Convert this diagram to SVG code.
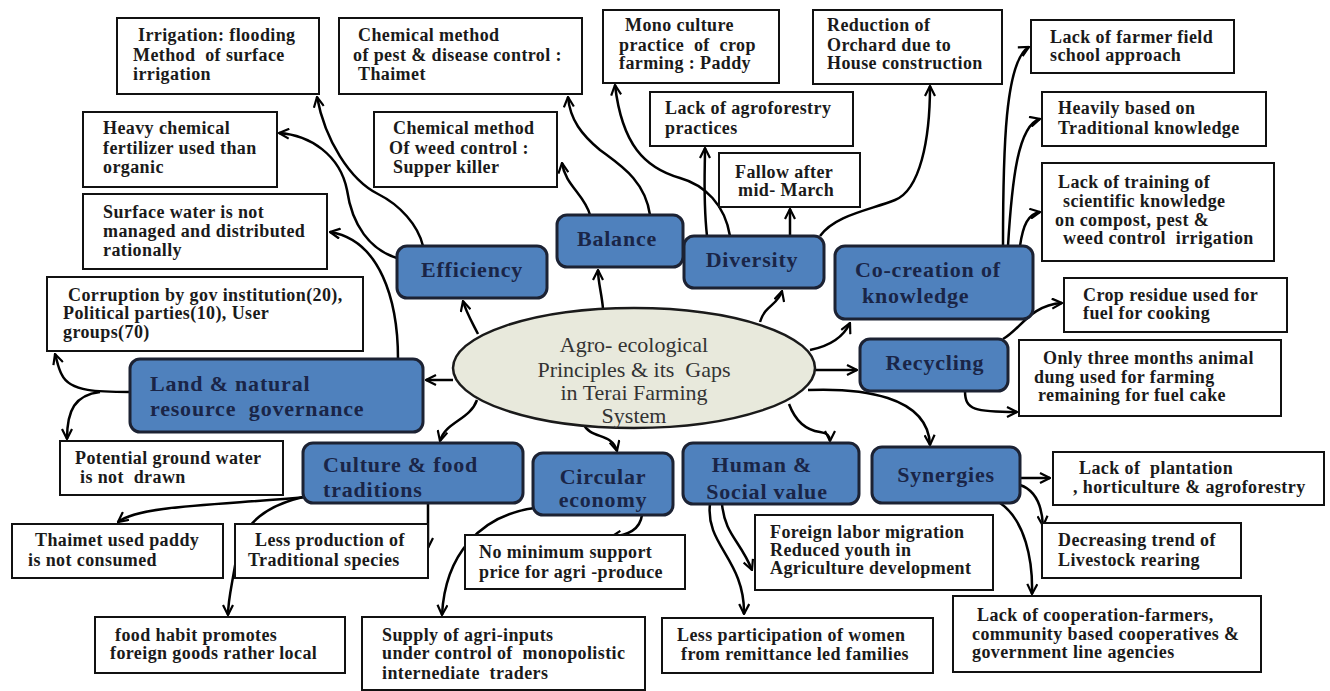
<svg xmlns="http://www.w3.org/2000/svg" width="1330" height="691" viewBox="0 0 1330 691">
<style>
.b{fill:#fff;stroke:#111;stroke-width:2}
.n{fill:#4f81bd;stroke:#1c2233;stroke-width:3}
.t{font-family:"Liberation Serif","Times New Roman",serif;font-weight:bold;font-size:18px;fill:#1a1a1a;white-space:pre;letter-spacing:0.4px}
.nt{font-family:"Liberation Serif","Times New Roman",serif;font-weight:bold;font-size:22px;fill:#1a2547;white-space:pre;letter-spacing:0.8px}
.et{font-family:"Liberation Serif","Times New Roman",serif;font-size:22px;fill:#333;white-space:pre}
.c path{fill:none;stroke:#000;stroke-width:2.5;marker-end:url(#ah)}
</style>
<defs>
<marker id="ah" viewBox="0 0 12 12" refX="11" refY="6" markerWidth="12" markerHeight="12" markerUnits="userSpaceOnUse" orient="auto">
<path d="M1,1 L11,6 L1,11" fill="none" stroke="#000" stroke-width="2.2"/>
</marker>
</defs>
<rect width="1330" height="691" fill="#fff"/>

<g class="c" id="connectors">
<path d="M478,334 C472,322 466,312 463,301"/>
<path d="M603,309 C602,295 598,282 598,270"/>
<path d="M760,322 C765,305 778,305 782,291"/>
<path d="M810,350 C830,346 843,338 850,323"/>
<path d="M815,370 L857,370"/>
<path d="M808,390 C860,388 928,395 930,445"/>
<path d="M789,404 C795,420 805,430 820,432 C828,433 830,436 830,441"/>
<path d="M583,423 C590,440 612,432 617,451"/>
<path d="M477,400 C470,420 445,422 440,441"/>
<path d="M453,380 L426,380"/>
<path d="M423,246 C418,225 400,205 378,194 C350,180 325,140 317,97"/>
<path d="M397,258 C370,250 352,225 347,190 C340,155 310,135 279,133"/>
<path d="M398,359 C398,300 380,240 330,232"/>
<path d="M130,392 C100,392 70,392 62,375 C58,368 57,360 55,354"/>
<path d="M100,392 C75,395 67,410 67,439"/>
<path d="M650,215 C645,180 620,165 600,150 C582,135 570,120 568,97"/>
<path d="M590,215 C585,195 565,185 562,163"/>
<path d="M730,236 C725,205 705,185 680,178 C645,168 622,145 615,85"/>
<path d="M707,236 C703,200 705,170 705,148"/>
<path d="M790,236 L790,209"/>
<path d="M820,236 C835,215 870,210 895,200 C920,190 930,140 930,86"/>
<path d="M1003,246 C1003,150 1005,60 1029,47"/>
<path d="M1008,246 C1012,180 1018,125 1040,119"/>
<path d="M1020,246 C1023,225 1028,214 1040,212"/>
<path d="M1003,339 C1020,330 1030,305 1062,303"/>
<path d="M965,391 C965,410 975,412 1017,412"/>
<path d="M306,497 C220,505 140,505 118,522"/>
<path d="M303,497 C270,505 242,520 236,560 C231,590 228,600 228,615"/>
<path d="M428,503 L428,548"/>
<path d="M535,508 C480,515 445,555 442,615"/>
<path d="M642,515 C640,530 628,535 611,537"/>
<path d="M722,504 C725,535 740,540 752,570"/>
<path d="M710,504 C705,545 745,560 744,614"/>
<path d="M1020,478 L1050,478"/>
<path d="M1020,485 C1035,490 1042,505 1043,526"/>
<path d="M1000,503 C1025,520 1033,560 1032,594"/>
</g>

<g id="center">
<ellipse cx="634" cy="368" rx="181" ry="60" fill="#e8e9dc" stroke="#1a1a1a" stroke-width="2.5"/>
<text class="et" x="634" text-anchor="middle"><tspan x="634" y="352">Agro- ecological</tspan><tspan x="634" y="377">Principles &amp; its  Gaps</tspan><tspan x="634" y="400">in Terai Farming</tspan><tspan x="634" y="423">System</tspan></text>
</g>

<g id="efficiency"><rect class="n" x="397" y="246" width="150" height="52" rx="10"/><text class="nt" x="472" y="277" text-anchor="middle">Efficiency</text></g>
<g id="balance"><rect class="n" x="557" y="215" width="126" height="52" rx="10"/><text class="nt" x="617" y="246" text-anchor="middle">Balance</text></g>
<g id="diversity"><rect class="n" x="684" y="236" width="140" height="52" rx="10"/><text class="nt" x="752" y="267" text-anchor="middle">Diversity</text></g>
<g id="cocreation"><rect class="n" x="835" y="246" width="198" height="73" rx="10"/><text class="nt"><tspan x="855" y="277">Co-creation of</tspan><tspan x="862" y="303">knowledge</tspan></text></g>
<g id="recycling"><rect class="n" x="860" y="339" width="148" height="52" rx="10"/><text class="nt" x="935" y="370" text-anchor="middle">Recycling</text></g>
<g id="land"><rect class="n" x="130" y="359" width="293" height="73" rx="10"/><text class="nt"><tspan x="150" y="391">Land &amp; natural</tspan><tspan x="150" y="416">resource  governance</tspan></text></g>
<g id="culture"><rect class="n" x="303" y="443" width="220" height="60" rx="10"/><text class="nt"><tspan x="323" y="472">Culture &amp; food</tspan><tspan x="323" y="497">traditions</tspan></text></g>
<g id="circular"><rect class="n" x="533" y="453" width="140" height="62" rx="10"/><text class="nt" text-anchor="middle"><tspan x="603" y="484">Circular</tspan><tspan x="603" y="507">economy</tspan></text></g>
<g id="human"><rect class="n" x="683" y="443" width="176" height="61" rx="10"/><text class="nt" text-anchor="middle"><tspan x="762" y="472">Human &amp;</tspan><tspan x="767" y="499">Social value</tspan></text></g>
<g id="synergies"><rect class="n" x="872" y="447" width="148" height="56" rx="10"/><text class="nt" x="946" y="482" text-anchor="middle">Synergies</text></g>

<g id="box-irrigation"><rect class="b" x="117" y="18" width="202" height="76"/><text class="t"><tspan x="138" y="41">Irrigation: flooding</tspan><tspan x="133" y="61">Method  of surface</tspan><tspan x="133" y="80">irrigation</tspan></text></g>
<g id="box-pest"><rect class="b" x="339" y="18" width="243" height="76"/><text class="t"><tspan x="358" y="41">Chemical method</tspan><tspan x="353" y="61">of pest &amp; disease control :</tspan><tspan x="358" y="80">Thaimet</tspan></text></g>
<g id="box-fertilizer"><rect class="b" x="83" y="112" width="194" height="75"/><text class="t"><tspan x="103" y="134">Heavy chemical</tspan><tspan x="103" y="154">fertilizer used than</tspan><tspan x="103" y="173">organic</tspan></text></g>
<g id="box-weed"><rect class="b" x="374" y="112" width="183" height="75"/><text class="t"><tspan x="393" y="134">Chemical method</tspan><tspan x="389" y="154">Of weed control :</tspan><tspan x="393" y="173">Supper killer</tspan></text></g>
<g id="box-surface"><rect class="b" x="83" y="194" width="244" height="75"/><text class="t"><tspan x="103" y="218">Surface water is not</tspan><tspan x="103" y="237">managed and distributed</tspan><tspan x="103" y="256">rationally</tspan></text></g>
<g id="box-corruption"><rect class="b" x="47" y="277" width="316" height="74"/><text class="t"><tspan x="68" y="301">Corruption by gov institution(20),</tspan><tspan x="63" y="319">Political parties(10), User</tspan><tspan x="63" y="338">groups(70)</tspan></text></g>
<g id="box-mono"><rect class="b" x="603" y="10" width="176" height="73"/><text class="t"><tspan x="625" y="31">Mono culture</tspan><tspan x="619" y="51">practice  of  crop</tspan><tspan x="619" y="69">farming : Paddy</tspan></text></g>
<g id="box-orchard"><rect class="b" x="813" y="10" width="189" height="74"/><text class="t"><tspan x="827" y="31">Reduction of</tspan><tspan x="827" y="51">Orchard due to</tspan><tspan x="827" y="69">House construction</tspan></text></g>
<g id="box-agroforestry"><rect class="b" x="650" y="92" width="203" height="54"/><text class="t"><tspan x="665" y="114">Lack of agroforestry</tspan><tspan x="665" y="134">practices</tspan></text></g>
<g id="box-fallow"><rect class="b" x="719" y="153" width="141" height="54"/><text class="t"><tspan x="735" y="178">Fallow after</tspan><tspan x="738" y="196">mid- March</tspan></text></g>
<g id="box-ffs"><rect class="b" x="1031" y="20" width="203" height="53"/><text class="t"><tspan x="1050" y="43">Lack of farmer field</tspan><tspan x="1050" y="61">school approach</tspan></text></g>
<g id="box-traditional"><rect class="b" x="1042" y="92" width="224" height="54"/><text class="t"><tspan x="1058" y="114">Heavily based on</tspan><tspan x="1058" y="134">Traditional knowledge</tspan></text></g>
<g id="box-training"><rect class="b" x="1042" y="163" width="232" height="98"/><text class="t"><tspan x="1058" y="188">Lack of training of</tspan><tspan x="1063" y="207">scientific knowledge</tspan><tspan x="1055" y="226">on compost, pest &amp;</tspan><tspan x="1063" y="244">weed control  irrigation</tspan></text></g>
<g id="box-residue"><rect class="b" x="1064" y="278" width="223" height="54"/><text class="t"><tspan x="1083" y="301">Crop residue used for</tspan><tspan x="1083" y="319">fuel for cooking</tspan></text></g>
<g id="box-dung"><rect class="b" x="1019" y="340" width="262" height="76"/><text class="t"><tspan x="1043" y="364">Only three months animal</tspan><tspan x="1034" y="383">dung used for farming</tspan><tspan x="1038" y="401">remaining for fuel cake</tspan></text></g>
<g id="box-groundwater"><rect class="b" x="60" y="441" width="223" height="54"/><text class="t"><tspan x="75" y="464">Potential ground water</tspan><tspan x="80" y="483">is not  drawn</tspan></text></g>
<g id="box-thaimet"><rect class="b" x="12" y="524" width="211" height="54"/><text class="t"><tspan x="35" y="546">Thaimet used paddy</tspan><tspan x="28" y="566">is not consumed</tspan></text></g>
<g id="box-lessprod"><rect class="b" x="235" y="524" width="193" height="54"/><text class="t"><tspan x="255" y="546">Less production of</tspan><tspan x="248" y="566">Traditional species</tspan></text></g>
<g id="box-foodhabit"><rect class="b" x="95" y="617" width="250" height="56"/><text class="t"><tspan x="115" y="641">food habit promotes</tspan><tspan x="110" y="659">foreign goods rather local</tspan></text></g>
<g id="box-supply"><rect class="b" x="362" y="617" width="283" height="73"/><text class="t"><tspan x="382" y="641">Supply of agri-inputs</tspan><tspan x="382" y="659">under control of  monopolistic</tspan><tspan x="382" y="679">internediate  traders</tspan></text></g>
<g id="box-msp"><rect class="b" x="465" y="535" width="220" height="54"/><text class="t"><tspan x="479" y="558">No minimum support</tspan><tspan x="479" y="578">price for agri -produce</tspan></text></g>
<g id="box-labor"><rect class="b" x="755" y="515" width="238" height="75"/><text class="t"><tspan x="770" y="538">Foreign labor migration</tspan><tspan x="770" y="556">Reduced youth in</tspan><tspan x="770" y="574">Agriculture development</tspan></text></g>
<g id="box-women"><rect class="b" x="662" y="618" width="271" height="55"/><text class="t"><tspan x="677" y="641">Less participation of women</tspan><tspan x="681" y="660">from remittance led families</tspan></text></g>
<g id="box-plantation"><rect class="b" x="1053" y="452" width="271" height="53"/><text class="t"><tspan x="1079" y="474">Lack of  plantation</tspan><tspan x="1073" y="493">, horticulture &amp; agroforestry</tspan></text></g>
<g id="box-livestock"><rect class="b" x="1042" y="523" width="199" height="55"/><text class="t"><tspan x="1058" y="546">Decreasing trend of</tspan><tspan x="1058" y="566">Livestock rearing</tspan></text></g>
<g id="box-cooperation"><rect class="b" x="953" y="596" width="308" height="76"/><text class="t"><tspan x="977" y="621">Lack of cooperation-farmers,</tspan><tspan x="972" y="640">community based cooperatives &amp;</tspan><tspan x="972" y="658">government line agencies</tspan></text></g>
</svg>
